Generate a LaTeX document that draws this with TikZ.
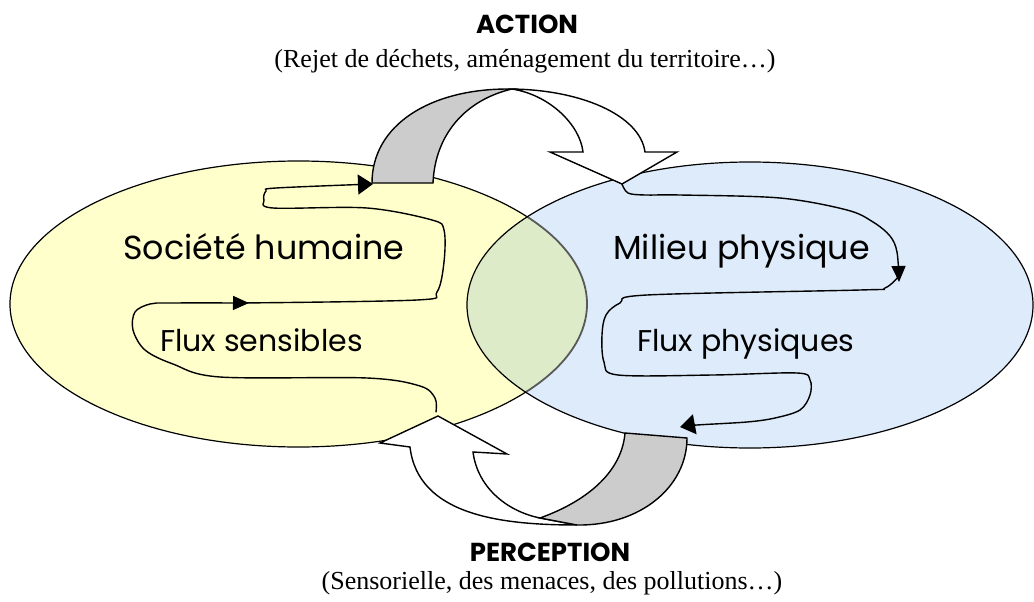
\documentclass[tikz,border=0pt]{standalone}
\usepackage{fontspec}
\setmainfont{Liberation Serif}
\newfontfamily\comic{Poppins}
\usetikzlibrary{arrows.meta}
\definecolor{yel}{RGB}{255,255,204}
\definecolor{blu}{RGB}{221,235,250}
\definecolor{grn}{RGB}{221,235,200}
\definecolor{gry}{RGB}{204,204,204}
\begin{document}
\begin{tikzpicture}[x=1pt,y=-1pt,
  outline/.style={draw=black,line width=1.2pt},
  band/.style={draw=black,line width=1.4pt,line join=miter},
  flow/.style={draw=black,line width=1.4pt,line cap=round},
  tipA/.style={-{Triangle[length=16pt,width=14pt]}},
  tipB/.style={-{Triangle[length=15pt,width=20pt]}},
  big/.style={font=\comic\fontsize{33.3}{38}\selectfont,inner sep=0pt},
  mid/.style={font=\comic\fontsize{30}{34}\selectfont,inner sep=0pt},
  title/.style={font=\comic\bfseries\fontsize{26}{30}\selectfont,inner sep=0pt},
  sub/.style={font=\fontsize{26}{30}\selectfont,inner sep=0pt}]
\useasboundingbox (0,0) rectangle (1034,602);
\fill[white] (0,0) rectangle (1034,602);
% ellipses
\fill[yel] (298.5,304) ellipse [x radius=288.5pt, y radius=143pt];
\draw[outline] (298.5,304) ellipse [x radius=288.5pt, y radius=143pt];
\fill[blu] (750,305) ellipse [x radius=283pt, y radius=143pt];
\begin{scope}
  \clip (298.5,304) ellipse [x radius=288.5pt, y radius=143pt];
  \fill[grn] (750,305) ellipse [x radius=283pt, y radius=143pt];
\end{scope}
\begin{scope}
  \clip (750,305) ellipse [x radius=283pt, y radius=143pt];
  \draw[draw=black!65,line width=1.8pt] (298.5,304) ellipse [x radius=288.5pt, y radius=143pt];
\end{scope}
\draw[outline] (750,305) ellipse [x radius=283pt, y radius=143pt];
% top curved arrow (action)
\filldraw[band,fill=white] (508,89) .. controls (580,89) and (640,115) .. (645,152)
  -- (677,152) -- (622,184) -- (550,152) -- (583,152)
  .. controls (580,125) and (550,95) .. (512,89) -- cycle;
\filldraw[band,fill=gry] (372,183) .. controls (372,125) and (430,89) .. (508,89)
  -- (512,89) .. controls (465,100) and (435,135) .. (433,183) -- cycle;
% bottom curved arrow (perception)
\filldraw[band,fill=white] (380,443) -- (438,416) -- (507,454) -- (473,452)
  .. controls (478,490) and (510,512) .. (540,518) -- (577,525)
  .. controls (500,525) and (418,515) .. (410,447) -- cycle;
\filldraw[band,fill=gry] (540,518) .. controls (590,500) and (622,470) .. (625,433)
  -- (687,438) .. controls (687,487) and (640,526) .. (577,525) -- cycle;
% flows in society
\draw[flow,tipA] plot[smooth,tension=0.55] coordinates {(436,412) (435,398) (420,386) (367,378) (220,377) (173,364) (145,350) (133,330) (135,312) (150,304) (170,303) (249,303)};
\draw[flow,tipB] plot[smooth,tension=0.55] coordinates {(240,303) (417,300) (437,292) (444,262) (444,230) (432,220) (367,208) (273,208) (264,200) (266,191) (276,188) (373,184)};
% flows in physical milieu
\draw[flow,tipA] plot[smooth,tension=0.55] coordinates {(622,184) (628,193) (645,195) (680,195) (780,198) (847,210) (873,222) (890,236) (897,252) (899,282)};
\draw[flow,tipB] plot[smooth,tension=0.55] coordinates {(899,276) (885,288) (860,290) (647,295) (620,303) (606,315) (602,335) (604,362) (618,375) (713,375) (797,373) (810,380) (810,395) (800,410) (775,418) (747,422) (697,425) (680,427)};
% texts
\node[big,anchor=base west] (soc) at (123,259) {Société humaine};
\node[mid,anchor=base west] (fs) at (160,351) {Flux sensibles};
\node[big,anchor=base west] (mil) at (613,259) {Milieu physique};
\node[mid,anchor=base west] (fp) at (637,351) {Flux physiques};
\node[title] (act) at (527,24) {ACTION};
\node[sub,anchor=base] (actd) at (525,68) {(Rejet de déchets, aménagement du territoire…)};
\node[title] (per) at (550,552) {PERCEPTION};
\node[sub,anchor=base] (perd) at (552,589) {(Sensorielle, des menaces, des pollutions…)};
\end{tikzpicture}
\end{document}
